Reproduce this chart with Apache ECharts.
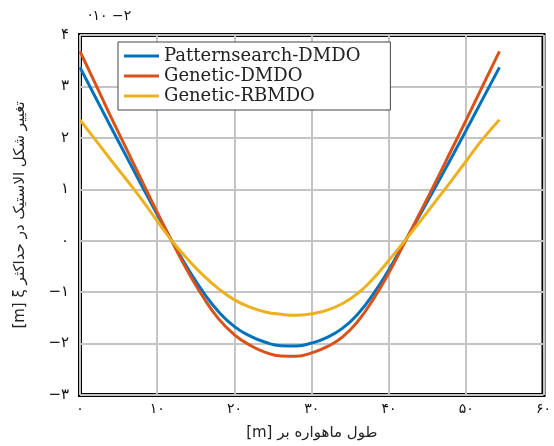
<!DOCTYPE html>
<html>
<head>
<meta charset="utf-8">
<script src="https://cdn.jsdelivr.net/npm/echarts@6/dist/echarts.min.js"></script>
<style>
  html, body { margin: 0; padding: 0; background: #fff; }
  #main { width: 554px; height: 446px; }
</style>
</head>
<body>
<div id="main"></div>
<script>
// satellite length [m]
var xValues = [0, 2, 4, 6, 8, 10, 12, 14, 16, 18, 20, 22, 24, 26, 28, 30, 32, 34, 36, 38, 40, 42, 44, 46, 48, 50, 52, 54.3];
// elastic deformation (x 10^-2)
var patternsearchDMDO = [3.37, 2.79, 2.21, 1.64, 1.07, 0.51, -0.03, -0.55, -1.01, -1.39, -1.67, -1.85, -1.975, -2.04, -2.045, -1.99, -1.88, -1.7, -1.42, -1.03, -0.56, -0.03, 0.5, 1.04, 1.59, 2.15, 2.72, 3.37];
var geneticDMDO = [3.68, 3.05, 2.41, 1.79, 1.17, 0.55, -0.04, -0.61, -1.11, -1.53, -1.83, -2.03, -2.17, -2.24, -2.245, -2.18, -2.06, -1.87, -1.56, -1.13, -0.62, -0.04, 0.54, 1.13, 1.74, 2.35, 2.97, 3.68];
var geneticRBMDO = [2.35, 1.96, 1.57, 1.19, 0.8, 0.38, -0.02, -0.37, -0.68, -0.94, -1.15, -1.29, -1.385, -1.43, -1.45, -1.42, -1.35, -1.22, -1.02, -0.73, -0.38, -0.01, 0.37, 0.76, 1.15, 1.55, 1.95, 2.35];

var xTicks = [0, 10, 20, 30, 40, 50, 60];
var xTickLabels = ['۰', '۱۰', '۲۰', '۳۰', '۴۰', '۵۰', '۶۰'];
var yTicks = [-3, -2, -1, 0, 1, 2, 3, 4];
var yTickLabels = ['−۳', '−۲', '−۱', '۰', '۱', '۲', '۳', '۴'];

function pairs(ys) {
  var out = [];
  for (var i = 0; i < xValues.length; i++) {
    out.push([xValues[i], ys[i]]);
  }
  return out;
}

var chart = echarts.init(document.getElementById('main'));

var lineW = 3;
var option = {
  backgroundColor: '#ffffff',
  animation: false,
  color: ['#0072BD', '#D95319', '#EDB120'],
  grid: {
    left: 80, right: 9, top: 35, bottom: 51,
    show: true,
    borderColor: '#000',
    borderWidth: 4,
    backgroundColor: 'transparent'
  },
  graphic: [{
    type: 'text',
    left: 88,
    top: 9,
    style: {
      text: '·۱۰ −۲',
      font: '14px "DejaVu Sans"',
      fill: '#111'
    }
  }],
  legend: {
    orient: 'vertical',
    left: 118,
    top: 42,
    padding: [4, 30, 4, 6],
    itemGap: 0,
    itemWidth: 35,
    itemHeight: 3,
    icon: 'rect',
    borderColor: '#444',
    borderWidth: 1,
    backgroundColor: '#fff',
    textStyle: {
      fontFamily: 'DejaVu Serif',
      fontSize: 18,
      lineHeight: 20,
      color: '#222'
    },
    data: ['Patternsearch-DMDO', 'Genetic-DMDO', 'Genetic-RBMDO']
  },
  xAxis: {
    type: 'value',
    min: 0,
    max: 60,
    interval: 10,
    name: '[m] ' + 'طول ماهواره بر',
    nameLocation: 'middle',
    nameGap: 31,
    nameTextStyle: { fontFamily: 'DejaVu Sans', fontSize: 15, color: '#222' },
    axisLine: { show: false },
    axisTick: { show: false },
    axisLabel: {
      margin: 7,
      fontFamily: 'DejaVu Sans',
      fontSize: 14,
      color: '#111',
      formatter: function (v) {
        var i = xTicks.indexOf(v);
        return i >= 0 ? xTickLabels[i] : '';
      }
    },
    splitLine: { show: true, lineStyle: { color: '#c4c4c4', width: 2 } }
  },
  yAxis: {
    type: 'value',
    min: -3,
    max: 4,
    interval: 1,
    name: '[m] ξ ' + 'تغییر شکل الاستیک در حداکثر',
    nameLocation: 'middle',
    nameRotate: 90,
    nameGap: 52,
    nameTextStyle: { fontFamily: 'DejaVu Sans', fontSize: 15, color: '#222' },
    axisLine: { show: false },
    axisTick: { show: false },
    axisLabel: {
      margin: 11,
      fontFamily: 'DejaVu Sans',
      fontSize: 15,
      color: '#111',
      formatter: function (v) {
        var i = yTicks.indexOf(v);
        return i >= 0 ? yTickLabels[i] : '';
      }
    },
    splitLine: { show: true, lineStyle: { color: '#c4c4c4', width: 2 } }
  },
  series: [{
    name: 'Patternsearch-DMDO',
    type: 'line',
    smooth: true,
    showSymbol: false,
    lineStyle: { width: lineW },
    data: pairs(patternsearchDMDO)
  }, {
    name: 'Genetic-DMDO',
    type: 'line',
    smooth: true,
    showSymbol: false,
    lineStyle: { width: lineW },
    data: pairs(geneticDMDO)
  }, {
    name: 'Genetic-RBMDO',
    type: 'line',
    smooth: true,
    showSymbol: false,
    lineStyle: { width: lineW },
    data: pairs(geneticRBMDO)
  }]
};
chart.setOption(option);
</script>
</body>
</html>
